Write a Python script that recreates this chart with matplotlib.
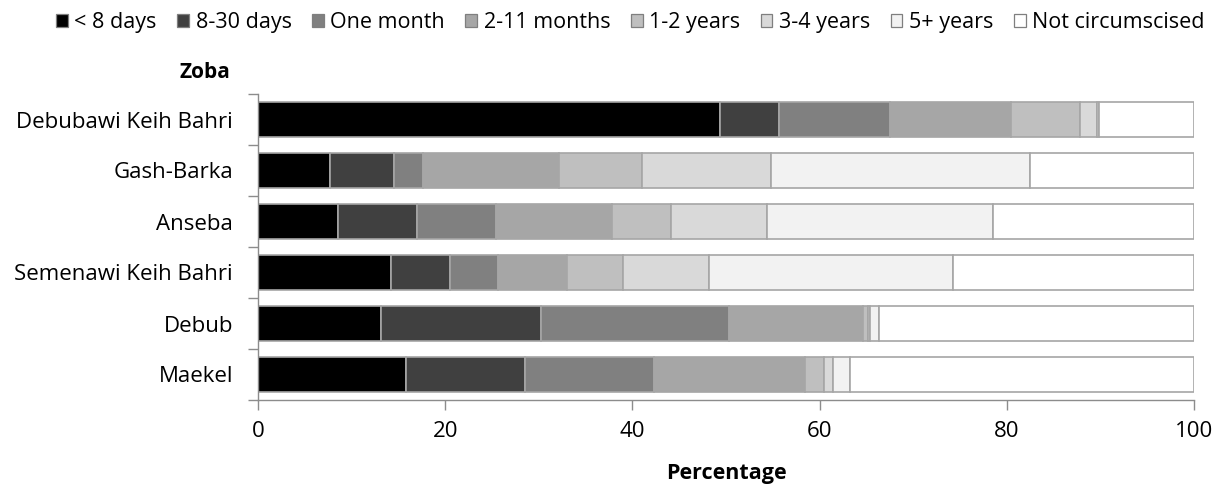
import numpy as np
import matplotlib.pyplot as plt
from matplotlib.patches import Patch

# data (percent, each row sums to ~100)
zobas = ["Debubawi Keih Bahri", "Gash-Barka", "Anseba",
         "Semenawi Keih Bahri", "Debub", "Maekel"]
groups = ["< 8 days", "8-30 days", "One month", "2-11 months",
          "1-2 years", "3-4 years", "5+ years", "Not circumscised"]
lt8_days = [49.4, 7.7, 8.5, 14.2, 13.1, 15.8]
d8_30 = [6.3, 6.8, 8.5, 6.3, 17.1, 12.7]
one_month = [11.8, 3.1, 8.4, 5.1, 20.1, 13.8]
m2_11 = [12.9, 14.6, 12.4, 7.4, 14.3, 16.1]
y1_2 = [7.4, 8.8, 6.3, 6.0, 0.6, 2.1]
y3_4 = [1.8, 13.8, 10.3, 9.2, 0.2, 0.9]
y5_plus = [0.3, 27.7, 24.1, 26.0, 0.9, 1.9]
not_circ = [10.1, 17.5, 21.5, 25.8, 33.7, 36.7]

series = [lt8_days, d8_30, one_month, m2_11, y1_2, y3_4, y5_plus, not_circ]
colors = ["#000000", "#404040", "#808080", "#A6A6A6",
          "#BFBFBF", "#D9D9D9", "#F2F2F2", "#FFFFFF"]
edge = "#A6A6A6"

plt.rcParams['font.family'] = ['Open Sans', 'DejaVu Sans']

fig = plt.figure(figsize=(12.24, 4.87), dpi=100)
ax = fig.add_axes([258 / 1224, 1 - 400 / 487, 936 / 1224, 306 / 487])

y = np.arange(len(zobas))
left = np.zeros(len(zobas))
for vals, c, lab in zip(series, colors, groups):
    ax.barh(y, vals, left=left, height=0.7, color=c, edgecolor=edge,
            linewidth=1.2, label=lab)
    left += np.array(vals)

ax.set_xlim(0, 100)
ax.set_ylim(len(zobas) - 0.5, -0.5)
ax.set_xticks([0, 20, 40, 60, 80, 100])
ax.set_yticks(y)
ax.set_yticklabels(zobas)
ax.set_yticks(np.arange(-0.5, len(zobas), 1), minor=True)
ax.tick_params(axis='y', which='major', length=0, pad=18, labelsize=16)
ax.tick_params(axis='y', which='minor', length=7, color='#8C8C8C', width=1)
ax.tick_params(axis='x', length=7, color='#8C8C8C', width=1, labelsize=16, pad=8)
for s in ['top', 'right']:
    ax.spines[s].set_visible(False)
for s in ['left', 'bottom']:
    ax.spines[s].set_color('#8C8C8C')
    ax.spines[s].set_linewidth(1)

ax.set_xlabel("Percentage", fontsize=15.5, fontweight='bold', labelpad=15)
fig.text(230 / 1224, 1 - 73 / 487, "Zoba", ha='right', va='center',
         fontsize=15, fontweight='bold')

handles = [Patch(facecolor=c, edgecolor='#7F7F7F', linewidth=0.9) for c in colors]
fig.legend(handles, groups, loc='upper center', bbox_to_anchor=(0.515, 1.0),
           ncol=8, frameon=False, fontsize=15.5, handlelength=0.55,
           handleheight=0.55, handletextpad=0.3, columnspacing=0.95,
           borderaxespad=0.15)

fig.savefig("out.png", dpi=100)
